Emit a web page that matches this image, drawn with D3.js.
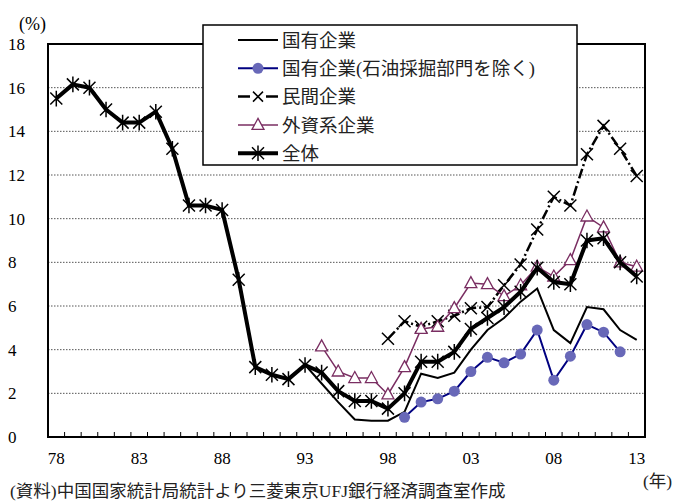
<html>
<head>
<meta charset="utf-8">
<title>chart</title>
<script type="text/javascript" src="https://cdn.jsdelivr.net/npm/d3@7"></script>
<style type="text/css">
body { margin:0; background:#fff; }
</style>
</head>
<body>
<script>

  var years = d3.range(1978, 2014),
      yTicks = [0,2,4,6,8,10,12,14,16,18],
      xLabels = [1978,1983,1988,1993,1998,2003,2008,2013];

  // 全体 1978-2013
  var total = [15.5,16.15,16.0,15.0,14.4,14.4,14.9,13.2,10.6,10.6,10.4,7.2,3.2,2.85,2.65,3.3,2.95,2.1,1.65,1.65,1.3,2.0,3.45,3.45,3.9,4.95,5.45,5.95,6.65,7.75,7.1,7.0,9.0,9.1,8.0,7.35];
  // 国有企業 1993-2013
  var soe = [3.3,2.45,1.6,0.8,0.75,0.75,1.15,2.9,2.7,2.95,4.0,4.9,5.45,6.2,6.8,4.9,4.3,5.95,5.85,4.9,4.45];
  // 国有企業(石油採掘部門を除く) 1999-2012
  var soeExOil = [0.9,1.6,1.75,2.1,3.0,3.65,3.4,3.8,4.9,2.6,3.7,5.15,4.8,3.9];
  // 民間企業 1998-2013
  var priv = [4.5,5.3,5.05,5.3,5.55,5.9,5.95,6.95,7.9,9.5,11.0,10.6,12.95,14.25,13.2,11.95];
  // 外資系企業 1994-2013
  var foreign = [4.15,3.0,2.7,2.7,1.95,3.2,4.95,5.05,5.9,7.05,7.0,6.45,6.95,7.8,7.35,8.1,10.1,9.6,8.0,7.8];

  var names = ["国有企業","国有企業(石油採掘部門を除く)","民間企業","外資系企業","全体"];

  function toPoints(start, vals){
    return vals.map(function(v,i){ return {year:start+i, v:v}; });
  }

  var FONT = "'Liberation Serif', 'Noto Sans CJK JP', serif";
  var pLeft = 48, pRight = 645, pTop = 44, pBottom = 437;

  var svg = d3.select("body").append("svg").attr("width",677).attr("height",501)
    .attr("font-family",FONT);

  var x = d3.scaleBand().domain(years).range([pLeft,pRight]).padding(0);
  var y = d3.scaleLinear().domain([0,18]).range([pBottom,pTop]);
  var cx = function(d){ return x(d.year) + x.bandwidth()/2; };

  // grid
  svg.selectAll(".grid").data(yTicks.filter(function(d){ return d>0 && d<18; }))
    .enter().append("line").attr("class","grid")
    .attr("x1",pLeft).attr("x2",pRight).attr("y1",function(d){ return y(d);}).attr("y2",function(d){ return y(d);})
    .attr("stroke","#555").attr("stroke-width",1).attr("stroke-dasharray","1.5,1.5");

  // ticks inside at category boundaries
  svg.selectAll(".xt").data(years.slice(1)).enter().append("line")
    .attr("x1",function(d){ return x(d);}).attr("x2",function(d){ return x(d);})
    .attr("y1",pBottom).attr("y2",pBottom-5).attr("stroke","#000").attr("stroke-width",1);

  svg.append("rect").attr("x",pLeft).attr("y",pTop).attr("width",pRight-pLeft).attr("height",pBottom-pTop)
    .attr("fill","none").attr("stroke","#000").attr("stroke-width",2);

  // y labels
  svg.selectAll(".yl").data(yTicks).enter().append("text")
    .attr("x",8).attr("y",function(d){ return y(d);}).attr("dy","0.35em")
    .attr("font-family",FONT).attr("font-size",17).text(function(d){ return d;});

  // x labels via axis
  var xAxis = d3.axisBottom(x).tickValues(xLabels).tickSize(0)
    .tickFormat(function(d){ return String(d).slice(2); });
  var gx = svg.append("g").attr("transform","translate(0,"+(pBottom+12)+")").call(xAxis)
    .attr("font-family",FONT);
  gx.select(".domain").remove();
  gx.selectAll("text").attr("font-family",FONT).attr("font-size",17).attr("fill","#000");

  svg.append("text").attr("x",19).attr("y",30).attr("font-size",18).text("(%)");
  svg.append("text").attr("x",643).attr("y",487).attr("font-size",17.5).attr("fill","#222").text("(年)");
  svg.append("text").attr("x",10).attr("y",497).attr("font-size",17.5).attr("fill","#222")
    .text("(資料)中国国家統計局統計より三菱東京UFJ銀行経済調査室作成");

  var line = d3.line().x(cx).y(function(d){ return y(d.v);});

  function asterisk(g, s, w){
    g.append("path").attr("d","M"+(-s)+","+(-s)+"L"+s+","+s+"M"+(-s)+","+s+"L"+s+","+(-s)+"M0,"+(-s*1.3)+"L0,"+(s*1.3))
      .attr("stroke","#000").attr("stroke-width",w).attr("fill","none");
  }
  function cross(g, s, w){
    g.append("path").attr("d","M"+(-s)+","+(-s)+"L"+s+","+s+"M"+(-s)+","+s+"L"+s+","+(-s))
      .attr("stroke","#000").attr("stroke-width",w).attr("fill","none");
  }
  var triPath = "M0,-6.5L6,4.5L-6,4.5Z";

  var plot = svg.append("g");

  // 国有企業
  plot.append("path").datum(toPoints(1993,soe)).attr("d",line)
    .attr("fill","none").attr("stroke","#000").attr("stroke-width",2);

  // 国有企業(石油採掘部門を除く)
  var ex = toPoints(1999,soeExOil);
  plot.append("path").datum(ex).attr("d",line).attr("fill","none").attr("stroke","#000080").attr("stroke-width",2);
  plot.selectAll(".dot").data(ex).enter().append("circle")
    .attr("cx",cx).attr("cy",function(d){ return y(d.v);}).attr("r",5.5).attr("fill","#6868B8");

  // 民間企業
  var pr = toPoints(1998,priv);
  plot.append("path").datum(pr).attr("d",line).attr("fill","none").attr("stroke","#000")
    .attr("stroke-width",2.5).attr("stroke-dasharray","10,3,2,3");
  plot.selectAll(".pm").data(pr).enter().append("g")
    .attr("transform",function(d){ return "translate("+cx(d)+","+y(d.v)+")";})
    .each(function(){ cross(d3.select(this),6,1.5); });

  // 外資系企業
  var fo = toPoints(1994,foreign);
  plot.append("path").datum(fo).attr("d",line).attr("fill","none").attr("stroke","#7A2E62").attr("stroke-width",1.5);
  plot.selectAll(".tri").data(fo).enter().append("path")
    .attr("transform",function(d){ return "translate("+cx(d)+","+y(d.v)+")";})
    .attr("d",triPath).attr("fill","#fff").attr("stroke","#7A2E62").attr("stroke-width",1.3);

  // 全体
  var to = toPoints(1978,total);
  plot.append("path").datum(to).attr("d",line).attr("fill","none").attr("stroke","#000")
    .attr("stroke-width",4).attr("stroke-linejoin","round");
  plot.selectAll(".am").data(to).enter().append("g")
    .attr("transform",function(d){ return "translate("+cx(d)+","+y(d.v)+")";})
    .each(function(){ asterisk(d3.select(this),6,1.5); });

  // legend
  var leg = svg.append("g");
  leg.append("rect").attr("x",203).attr("y",25).attr("width",374).attr("height",140)
    .attr("fill","#fff").attr("stroke","#000").attr("stroke-width",1.5);
  names.forEach(function(n,i){
    var ly = 40 + i*28.3;
    var g = leg.append("g").attr("transform","translate(258,"+ly+")");
    if(i==0){ g.append("line").attr("x1",-20).attr("x2",20).attr("stroke","#000").attr("stroke-width",2); }
    if(i==1){ g.append("line").attr("x1",-20).attr("x2",20).attr("stroke","#000080").attr("stroke-width",2);
              g.append("circle").attr("r",5.5).attr("fill","#6868B8"); }
    if(i==2){ g.append("line").attr("x1",-20).attr("x2",20).attr("stroke","#000").attr("stroke-width",2.5);
              g.append("rect").attr("x",-8).attr("y",-3).attr("width",16).attr("height",6).attr("fill","#fff");
              cross(g,5,1.5); }
    if(i==3){ g.append("line").attr("x1",-20).attr("x2",20).attr("stroke","#7A2E62").attr("stroke-width",1.5);
              g.append("path").attr("d",triPath).attr("fill","#fff").attr("stroke","#7A2E62").attr("stroke-width",1.3); }
    if(i==4){ g.append("line").attr("x1",-20).attr("x2",20).attr("stroke","#000").attr("stroke-width",4);
              asterisk(g,6,1.5); }
    leg.append("text").attr("x",282).attr("y",ly).attr("dy","0.36em")
      .attr("font-size",18.5).attr("fill","#222").text(n);
  });

</script>
</body>
</html>
